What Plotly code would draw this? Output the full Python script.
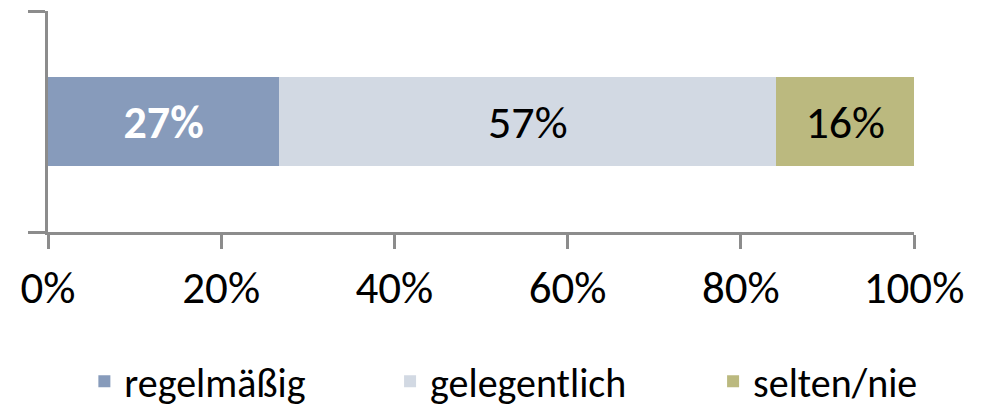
import plotly.graph_objects as go

# Anteile je Kategorie (ein gestapelter Balken)
category = ["Nutzung"]
series_names = ["regelmäßig", "gelegentlich", "selten/nie"]
series_values = [0.267, 0.574, 0.159]
series_colors = ["#879bbb", "#d2d9e3", "#bbb97f"]
label_colors = ["white", "black", "black"]
label_weights = ["bold", "normal", "normal"]
legend_x = [0.042, 0.395, 0.768]
tick_values = [0, 0.2, 0.4, 0.6, 0.8, 1.0]
tick_labels = ["0%", "20%", "40%", "60%", "80%", "100%"]

FONT = "Carlito, Lato, sans-serif"

fig = go.Figure()
legend_ids = ["legend", "legend2", "legend3"]
for name, val, col, lc, lw, lg in zip(series_names, series_values, series_colors,
                                      label_colors, label_weights, legend_ids):
    fig.add_trace(go.Bar(
        y=category, x=[val], name=name, orientation="h",
        marker=dict(color=col, line=dict(width=0)),
        width=0.4, legend=lg, showlegend=True,
        text=[f"{val:.0%}"], textposition="inside",
        insidetextanchor="middle",
        textfont=dict(family=FONT, size=46, color=lc, weight=lw),
        hoverinfo="skip",
    ))

legend_style = dict(orientation="h", xanchor="left", y=-0.675, yanchor="middle",
                    font=dict(family=FONT, size=40), bgcolor="rgba(0,0,0,0)",
                    visible=True)
fig.update_layout(
    barmode="stack",
    width=985, height=406,
    showlegend=True,
    # die Seite hat 8px Rand, daher etwas weniger Margin oben/links
    margin=dict(l=40, r=79, t=3, b=182, autoexpand=False),
    paper_bgcolor="white", plot_bgcolor="white",
    font=dict(family=FONT, color="black"),
    legend=dict(x=legend_x[0], **legend_style),
    legend2=dict(x=legend_x[1], **legend_style),
    legend3=dict(x=legend_x[2], **legend_style),
)
fig.update_xaxes(
    range=[0, 1], tickvals=tick_values, ticktext=tick_labels,
    showgrid=False, zeroline=False, automargin=False,
    showline=True, linecolor="#8c8c8c", linewidth=2.5,
    ticks="outside", ticklen=14, tickwidth=2.5, tickcolor="#8c8c8c",
    tickfont=dict(family=FONT, size=45),
)
fig.update_yaxes(
    type="category", range=[-0.5, 0.5], automargin=False,
    showgrid=False, zeroline=False, showticklabels=False,
    showline=True, linecolor="#8c8c8c", linewidth=2.5,
    ticks="outside", ticklen=17, tickwidth=2.5, tickcolor="#8c8c8c",
    tickson="boundaries",
)

fig.write_html("out.html")
